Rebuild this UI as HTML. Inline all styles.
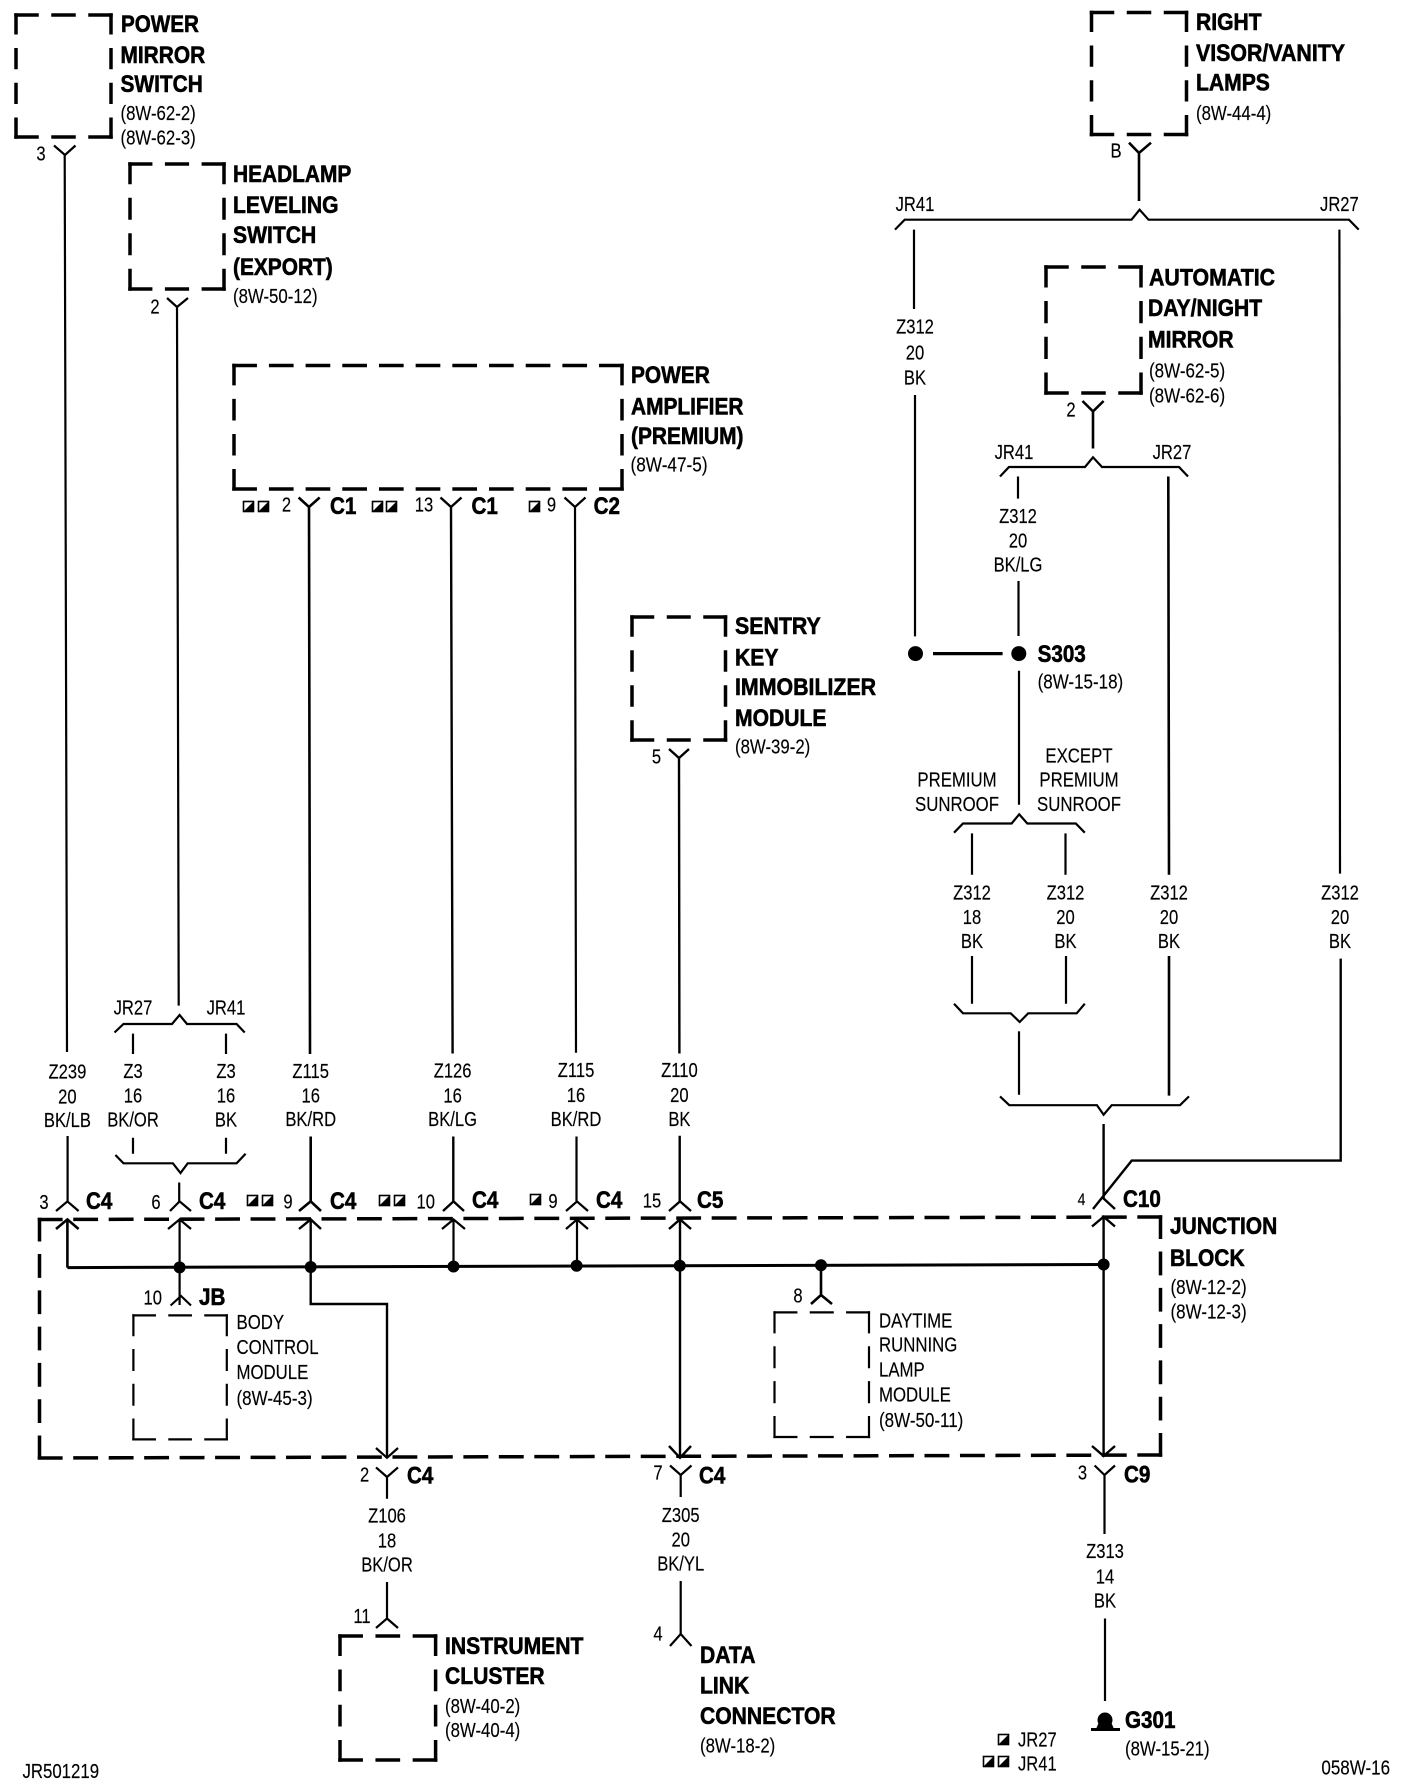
<!DOCTYPE html>
<html><head><meta charset="utf-8"><title>Wiring diagram</title>
<style>
html,body{margin:0;padding:0;background:#fff}
svg{display:block}
.b text{font:bold 24px "Liberation Sans",sans-serif;fill:#000;stroke:#000;stroke-width:.6}
.r text{font:20px "Liberation Sans",sans-serif;fill:#000;stroke:#000;stroke-width:.15}
.m text{text-anchor:middle}
</style></head><body>
<svg width="1408" height="1788" viewBox="0 0 1408 1788" xmlns="http://www.w3.org/2000/svg">
<defs><g id="q"><rect x=".5" y=".5" width="10" height="10" fill="#fff" stroke="#000" stroke-width="1.6"/><path d="M11 0V11H0Z" fill="#000"/></g></defs>
<rect width="1408" height="1788" fill="#fff"/>

<!-- thick dashed boxes -->
<g fill="none" stroke="#000" stroke-width="3.5" stroke-linecap="square">
<path d="M16 15H111M16 137H111" stroke-dasharray="21 16"/><path d="M16 15V137M111 15V137" stroke-dasharray="17.75 17"/>
<path d="M130 164H224M130 289H224" stroke-dasharray="20.67 16"/><path d="M130 164V289M224 164V289" stroke-dasharray="18.5 17"/>
<path d="M234 365.5H622M234 489H622" stroke-dasharray="21.18 15.5"/><path d="M234 365.5V489M622 365.5V489" stroke-dasharray="18.1 17"/>
<path d="M1091.5 12.5H1186.5M1091.5 134.5H1186.5" stroke-dasharray="21 16"/><path d="M1091.5 12.5V134.5M1186.5 12.5V134.5" stroke-dasharray="17.75 17"/>
<path d="M1046 267H1141M1046 393H1141" stroke-dasharray="21 16"/><path d="M1046 267V393M1141 267V393" stroke-dasharray="18.75 17"/>
<path d="M632 617H725.5M632 740H725.5" stroke-dasharray="20.5 16"/><path d="M632 617V740M725.5 617V740" stroke-dasharray="18 17"/>
<path d="M340 1636H435.6M340 1760H435.6" stroke-dasharray="21.2 16"/><path d="M340 1636V1760M435.6 1636V1760" stroke-dasharray="18.25 17"/>
<path d="M39.5 1219.5L1160.5 1217M39.5 1458L1160.5 1455" stroke-dasharray="21.37 14.1"/><path d="M39.5 1219.5V1458M1160.5 1217V1455" stroke-dasharray="20.29 16"/>
</g>
<!-- thin dashed boxes -->
<g fill="none" stroke="#000" stroke-width="2.2" stroke-linecap="square">
<path d="M133.4 1315.4H226.8M133.4 1439.4H226.8" stroke-dasharray="21.47 14.5"/><path d="M133.4 1315.4V1439.4M226.8 1315.4V1439.4" stroke-dasharray="19.75 15"/>
<path d="M774.5 1312.4H869M774.5 1437H869" stroke-dasharray="21.83 14.5"/><path d="M774.5 1312.4V1437M869 1312.4V1437" stroke-dasharray="19.9 15"/>
</g>

<!-- wires & connectors -->
<g fill="none" stroke="#000" stroke-width="2.2">
<path d="M54 145.5L65 155L75.5 145.5M64.7 155L67 1052M67.6 1136V1201M56 1211L67.4 1201.4L78.6 1211"/>
<path d="M167 298L177 307L188 298M177 307L178.7 1005.6"/>
<path d="M114.5 1032.5L123.5 1024H172L179.6 1015L187 1024H236.6L244.7 1032.5"/>
<path d="M133 1033.6V1054M226 1033.6V1054M133 1137.7V1153.8M226 1137.7V1153.8"/>
<path d="M115.4 1155L123.5 1163.3H172.9L180.5 1173L187.7 1163.3H236.6L245.6 1153.8"/>
<path d="M179.2 1182.5V1201.4M170 1211L179.6 1201.4L191 1211"/>
<path d="M298.6 497.5L309 507L319.7 497.5M309 507L310 1054M310.7 1136.5V1201M299 1211L310.7 1201.4L321 1211" stroke-width="2.6"/>
<path d="M440.5 497.5L451 507L461.5 497.5M451 507L452.6 1053.5M453.3 1136.5V1201M443 1211L453.5 1201.4L464 1211" stroke-width="2.4"/>
<path d="M564.5 497.5L575 507L585.5 497.5M575 507L576 1052.7M576.5 1136.5V1201M566 1211L577 1201.4L588 1211"/>
<path d="M669 749L679 758L689 749M679 758L679.4 1053.5M679.7 1135.8V1201M669 1211L680 1201.4L691 1211" stroke-width="2.4"/>

<!-- up arrows inside junction -->
<path d="M56 1229L67.4 1219.4L78.6 1229M67.4 1219.4V1267.6" stroke-width="2.6"/>
<path d="M168 1229L179.6 1219.4L191 1229M179.6 1219.4V1305"/>
<path d="M299 1229L310.7 1219.4L321 1229M310.7 1219.4V1304H387V1458" stroke-width="2.4"/>
<path d="M442 1229L453.5 1219.4L465 1229M453.5 1219.4V1266.5"/>
<path d="M566 1229L577 1219.4L588 1229M577 1219.4V1265.7"/>
<path d="M669 1229L680 1219.4L691 1229M680 1219.4V1457M669 1446L680 1457.8L691 1446" stroke-width="2.4"/>
<path d="M1092 1226.5L1103.6 1216.7L1115 1226.5M1103.6 1216.7V1456M1092 1446L1103.6 1456L1115 1446" stroke-width="2.4"/>
<path d="M376 1448L387 1457.8L398 1448"/>
<path d="M67.4 1267.6L1103.6 1264.5" stroke-width="3"/>
<path d="M170.6 1305.5L181 1296L191 1305.5"/>
<path d="M821 1265.3V1295M811 1304L821 1295L832 1304" stroke-width="2.6"/>

<!-- C10 -->
<path d="M1340.7 958.6V1160.6H1131.7L1093 1209M1103.6 1124V1198.5L1115 1209" stroke-width="2.4"/>
<path d="M1094.6 1465.5L1104.5 1475L1115 1465.5M1104.5 1475V1534M1105 1618.5V1701"/>

<!-- bottom connectors -->
<path d="M376 1467.4L387 1477L398 1467.4M387 1477V1498.8M387 1582V1618.5M376 1628L387 1618.5L398 1628"/>
<path d="M670 1465.5L680.7 1475L691.5 1465.5M680.7 1475V1497M680.7 1581V1634M670 1646L680.7 1634L691.5 1646"/>

<!-- right visor -->
<path d="M1129 142.7L1139 153L1151 142.7M1139 153V201" stroke-width="2.6"/>
<path d="M895 229.6L904.7 219.7H1131.5L1139.6 209.7L1148.5 219.7H1349L1358.7 229.6"/>
<path d="M914 229.6V309M915 395V636.4" stroke-width="2.2"/>
<path d="M1339.4 229.6L1340 873.6"/>
<!-- day/night -->
<path d="M1082.5 401L1093 411.4L1103.6 401M1093 411.4V448.5" stroke-width="2.6"/>
<path d="M1000 476.5L1009 467H1085L1093 457.3L1102 467H1179L1188 476.5"/>
<path d="M1018 476.5V498.6M1018.5 581V636M1019 670.8V804.7"/>
<path d="M1168.3 476.5L1169 874.8M1169 956V1095.6" stroke-width="2.6"/>
<path d="M933 653.6H1002.6" stroke-width="3.2"/>
<path d="M954 832.7L963 823.5H1011.6L1019.2 814.3L1027.3 823.5H1075.8L1084.8 832.7"/>
<path d="M972 833.4V874.8M1065.5 833.4V874.8M972 956V1003.7M1066 956V1003.7"/>
<path d="M954 1003.7L963 1013.3H1010.7L1019.7 1022L1028.2 1013.3H1076.7L1084.8 1003.7"/>
<path d="M1019 1031.3V1094.8"/>
<path d="M1000 1096.4L1009.3 1105.2H1097L1103.6 1114.7L1111.7 1105.2H1180L1189 1096.4"/>
<path d="M1091 1729.5H1120" stroke-width="3"/>
</g>

<!-- dots -->
<g fill="#000">
<circle cx="915.5" cy="653.6" r="7.5"/><circle cx="1018.8" cy="653.6" r="7.5"/>
<circle cx="179.6" cy="1267.4" r="6"/><circle cx="310.7" cy="1267" r="6"/><circle cx="453.5" cy="1266.5" r="6"/><circle cx="576.6" cy="1265.8" r="6"/><circle cx="679.8" cy="1265.7" r="6"/><circle cx="821" cy="1265.3" r="6"/><circle cx="1103.6" cy="1264.5" r="6"/>
<circle cx="1105" cy="1720" r="7.5"/><path d="M1099 1722H1111L1114 1729H1096Z"/>
</g>

<!-- legend squares -->
<use href="#q" x="243" y="501"/><use href="#q" x="258" y="501"/>
<use href="#q" x="372" y="501"/><use href="#q" x="386" y="501"/>
<use href="#q" x="529" y="501"/>
<use href="#q" x="247" y="1195"/><use href="#q" x="262" y="1195"/>
<use href="#q" x="379" y="1195"/><use href="#q" x="394" y="1195"/>
<use href="#q" x="530" y="1194"/>
<use href="#q" x="998" y="1734"/>
<use href="#q" x="983" y="1756"/><use href="#q" x="998" y="1756"/>

<!-- bold labels -->
<g class="b"><g transform="translate(0 8.2)">
<text transform="matrix(.86 0 0 1 121 24)">POWER</text>
<text transform="matrix(.87 0 0 1 120.5 54.7)">MIRROR</text>
<text transform="matrix(.87 0 0 1 120.5 84)">SWITCH</text>
<text transform="matrix(.87 0 0 1 233 174)">HEADLAMP</text>
<text transform="matrix(.88 0 0 1 233 204.7)">LEVELING</text>
<text transform="matrix(.88 0 0 1 233 235)">SWITCH</text>
<text transform="matrix(.87 0 0 1 233 266.7)">(EXPORT)</text>
<text transform="matrix(.87 0 0 1 631 375)">POWER</text>
<text transform="matrix(.87 0 0 1 631 406.4)">AMPLIFIER</text>
<text transform="matrix(.87 0 0 1 631 436)">(PREMIUM)</text>
<text transform="matrix(.88 0 0 1 1196 22)">RIGHT</text>
<text transform="matrix(.89 0 0 1 1196 52.8)">VISOR/VANITY</text>
<text transform="matrix(.88 0 0 1 1196 82.3)">LAMPS</text>
<text transform="matrix(.89 0 0 1 1149 277.5)">AUTOMATIC</text>
<text transform="matrix(.88 0 0 1 1148 308)">DAY/NIGHT</text>
<text transform="matrix(.88 0 0 1 1148 339.5)">MIRROR</text>
<text transform="matrix(.89 0 0 1 735 626)">SENTRY</text>
<text transform="matrix(.88 0 0 1 735 657.4)">KEY</text>
<text transform="matrix(.89 0 0 1 735 687)">IMMOBILIZER</text>
<text transform="matrix(.88 0 0 1 735 718)">MODULE</text>
<text transform="matrix(.86 0 0 1 1037.6 653.6)">S303</text>
<text transform="matrix(.86 0 0 1 330 506)">C1</text>
<text transform="matrix(.86 0 0 1 471.5 506)">C1</text>
<text transform="matrix(.86 0 0 1 593.6 506)">C2</text>
<text transform="matrix(.86 0 0 1 86 1200.6)">C4</text>
<text transform="matrix(.86 0 0 1 199 1200.6)">C4</text>
<text transform="matrix(.86 0 0 1 330 1200.6)">C4</text>
<text transform="matrix(.86 0 0 1 472 1200)">C4</text>
<text transform="matrix(.86 0 0 1 596 1200)">C4</text>
<text transform="matrix(.86 0 0 1 697 1200)">C5</text>
<text transform="matrix(.86 0 0 1 1123 1199)">C10</text>
<text transform="matrix(.86 0 0 1 199 1297)">JB</text>
<text transform="matrix(.875 0 0 1 1170 1226)">JUNCTION</text>
<text transform="matrix(.875 0 0 1 1170 1257.6)">BLOCK</text>
<text transform="matrix(.86 0 0 1 407 1475.5)">C4</text>
<text transform="matrix(.86 0 0 1 699 1475.5)">C4</text>
<text transform="matrix(.86 0 0 1 1124 1474.5)">C9</text>
<text transform="matrix(.88 0 0 1 445 1646)">INSTRUMENT</text>
<text transform="matrix(.88 0 0 1 445 1676)">CLUSTER</text>
<text transform="matrix(.88 0 0 1 700 1655)">DATA</text>
<text transform="matrix(.88 0 0 1 700 1685.5)">LINK</text>
<text transform="matrix(.88 0 0 1 700 1716)">CONNECTOR</text>
<text transform="matrix(.86 0 0 1 1125 1720)">G301</text>
</g></g>

<!-- regular left-aligned labels -->
<g class="r"><g transform="translate(0 6.5)">
<text transform="matrix(.84 0 0 1 120.5 113.7)">(8W-62-2)</text>
<text transform="matrix(.84 0 0 1 120.5 137.8)">(8W-62-3)</text>
<text transform="matrix(.84 0 0 1 233 296.6)">(8W-50-12)</text>
<text transform="matrix(.86 0 0 1 630.5 465)">(8W-47-5)</text>
<text transform="matrix(.84 0 0 1 1196 113.7)">(8W-44-4)</text>
<text transform="matrix(.85 0 0 1 1149 371)">(8W-62-5)</text>
<text transform="matrix(.85 0 0 1 1149 396)">(8W-62-6)</text>
<text transform="matrix(.84 0 0 1 735 747)">(8W-39-2)</text>
<text transform="matrix(.85 0 0 1 1037.6 682)">(8W-15-18)</text>
<text transform="matrix(.84 0 0 1 236.5 1322.5)">BODY</text>
<text transform="matrix(.84 0 0 1 236.5 1347.5)">CONTROL</text>
<text transform="matrix(.84 0 0 1 236.5 1372.5)">MODULE</text>
<text transform="matrix(.85 0 0 1 236.5 1398.5)">(8W-45-3)</text>
<text transform="matrix(.84 0 0 1 879 1321)">DAYTIME</text>
<text transform="matrix(.84 0 0 1 879 1345)">RUNNING</text>
<text transform="matrix(.84 0 0 1 879 1370)">LAMP</text>
<text transform="matrix(.84 0 0 1 879 1395)">MODULE</text>
<text transform="matrix(.85 0 0 1 879 1420.7)">(8W-50-11)</text>
<text transform="matrix(.85 0 0 1 1170.5 1287.5)">(8W-12-2)</text>
<text transform="matrix(.85 0 0 1 1170.5 1312)">(8W-12-3)</text>
<text transform="matrix(.84 0 0 1 445 1706.6)">(8W-40-2)</text>
<text transform="matrix(.84 0 0 1 445 1730.7)">(8W-40-4)</text>
<text transform="matrix(.84 0 0 1 700 1746)">(8W-18-2)</text>
<text transform="matrix(.84 0 0 1 1125 1749)">(8W-15-21)</text>
<text transform="matrix(.83 0 0 1 1018 1740)">JR27</text>
<text transform="matrix(.83 0 0 1 1018 1764)">JR41</text>
<text transform="matrix(.85 0 0 1 1321.4 1768)">058W-16</text>
<text transform="matrix(.84 0 0 1 22.5 1771.6)">JR501219</text>
</g></g>

<!-- regular centred labels -->
<g class="r m"><g transform="translate(0 6.5)">
<text transform="matrix(.83 0 0 1 41 154)">3</text>
<text transform="matrix(.83 0 0 1 155 307)">2</text>
<text transform="matrix(.83 0 0 1 286.5 505)">2</text>
<text transform="matrix(.83 0 0 1 424 505)">13</text>
<text transform="matrix(.83 0 0 1 551.5 505)">9</text>
<text transform="matrix(.83 0 0 1 656.5 757)">5</text>
<text transform="matrix(.83 0 0 1 1116 151)">B</text>
<text transform="matrix(.83 0 0 1 1071 410)">2</text>
<text transform="matrix(.83 0 0 1 44 1202.5)">3</text>
<text transform="matrix(.83 0 0 1 156 1202.5)">6</text>
<text transform="matrix(.83 0 0 1 288 1202)">9</text>
<text transform="matrix(.83 0 0 1 425.7 1202)">10</text>
<text transform="matrix(.83 0 0 1 553 1201.5)">9</text>
<text transform="matrix(.83 0 0 1 652 1201)">15</text>
<text transform="matrix(.7 0 0 .85 1081.5 1198.5)">4</text>
<text transform="matrix(.83 0 0 1 152.7 1298)">10</text>
<text transform="matrix(.83 0 0 1 798 1296)">8</text>
<text transform="matrix(.83 0 0 1 364.6 1475)">2</text>
<text transform="matrix(.83 0 0 1 658 1473)">7</text>
<text transform="matrix(.83 0 0 1 1082.5 1473)">3</text>
<text transform="matrix(.83 0 0 1 362 1616.6)">11</text>
<text transform="matrix(.83 0 0 1 658 1634)">4</text>

<text transform="matrix(.83 0 0 1 915 204.7)">JR41</text>
<text transform="matrix(.83 0 0 1 1339.4 204.7)">JR27</text>
<text transform="matrix(.83 0 0 1 1014 452.7)">JR41</text>
<text transform="matrix(.83 0 0 1 1172 452.7)">JR27</text>
<text transform="matrix(.83 0 0 1 133 1008)">JR27</text>
<text transform="matrix(.83 0 0 1 226 1008)">JR41</text>

<text transform="matrix(.83 0 0 1 915 327)">Z312</text>
<text transform="matrix(.83 0 0 1 915 353)">20</text>
<text transform="matrix(.83 0 0 1 915 378)">BK</text>
<text transform="matrix(.83 0 0 1 1018 516.6)">Z312</text>
<text transform="matrix(.83 0 0 1 1018 540.8)">20</text>
<text transform="matrix(.83 0 0 1 1018 565)">BK/LG</text>

<text transform="matrix(.84 0 0 1 957 780)">PREMIUM</text>
<text transform="matrix(.84 0 0 1 957 804.7)">SUNROOF</text>
<text transform="matrix(.84 0 0 1 1079 755.8)">EXCEPT</text>
<text transform="matrix(.84 0 0 1 1079 780)">PREMIUM</text>
<text transform="matrix(.84 0 0 1 1079 804.7)">SUNROOF</text>

<text transform="matrix(.83 0 0 1 972 892.8)">Z312</text>
<text transform="matrix(.83 0 0 1 972 917.6)">18</text>
<text transform="matrix(.83 0 0 1 972 941.4)">BK</text>
<text transform="matrix(.83 0 0 1 1065.5 892.8)">Z312</text>
<text transform="matrix(.83 0 0 1 1065.5 917.6)">20</text>
<text transform="matrix(.83 0 0 1 1065.5 941.4)">BK</text>
<text transform="matrix(.83 0 0 1 1169 892.8)">Z312</text>
<text transform="matrix(.83 0 0 1 1169 917.6)">20</text>
<text transform="matrix(.83 0 0 1 1169 941.4)">BK</text>
<text transform="matrix(.83 0 0 1 1340 892.8)">Z312</text>
<text transform="matrix(.83 0 0 1 1340 917.6)">20</text>
<text transform="matrix(.83 0 0 1 1340 941.4)">BK</text>

<text transform="matrix(.83 0 0 1 67.4 1072)">Z239</text>
<text transform="matrix(.83 0 0 1 67.4 1097)">20</text>
<text transform="matrix(.83 0 0 1 67.4 1120.5)">BK/LB</text>
<text transform="matrix(.83 0 0 1 133 1071.5)">Z3</text>
<text transform="matrix(.83 0 0 1 133 1096)">16</text>
<text transform="matrix(.83 0 0 1 133 1120)">BK/OR</text>
<text transform="matrix(.83 0 0 1 226 1071.5)">Z3</text>
<text transform="matrix(.83 0 0 1 226 1096)">16</text>
<text transform="matrix(.83 0 0 1 226 1120)">BK</text>
<text transform="matrix(.83 0 0 1 310.7 1071.5)">Z115</text>
<text transform="matrix(.83 0 0 1 310.7 1096)">16</text>
<text transform="matrix(.83 0 0 1 310.7 1119.5)">BK/RD</text>
<text transform="matrix(.83 0 0 1 452.6 1071)">Z126</text>
<text transform="matrix(.83 0 0 1 452.6 1096)">16</text>
<text transform="matrix(.83 0 0 1 452.6 1119.5)">BK/LG</text>
<text transform="matrix(.83 0 0 1 576 1070.5)">Z115</text>
<text transform="matrix(.83 0 0 1 576 1095.5)">16</text>
<text transform="matrix(.83 0 0 1 576 1119.5)">BK/RD</text>
<text transform="matrix(.83 0 0 1 679.4 1070.5)">Z110</text>
<text transform="matrix(.83 0 0 1 679.4 1095.5)">20</text>
<text transform="matrix(.83 0 0 1 679.4 1119.5)">BK</text>

<text transform="matrix(.83 0 0 1 387 1516)">Z106</text>
<text transform="matrix(.83 0 0 1 387 1541)">18</text>
<text transform="matrix(.83 0 0 1 387 1565)">BK/OR</text>
<text transform="matrix(.83 0 0 1 680.7 1515.6)">Z305</text>
<text transform="matrix(.83 0 0 1 680.7 1540)">20</text>
<text transform="matrix(.83 0 0 1 680.7 1564)">BK/YL</text>
<text transform="matrix(.83 0 0 1 1105 1551.6)">Z313</text>
<text transform="matrix(.83 0 0 1 1105 1577)">14</text>
<text transform="matrix(.83 0 0 1 1105 1601)">BK</text>
</g></g>
</svg>
</body></html>
